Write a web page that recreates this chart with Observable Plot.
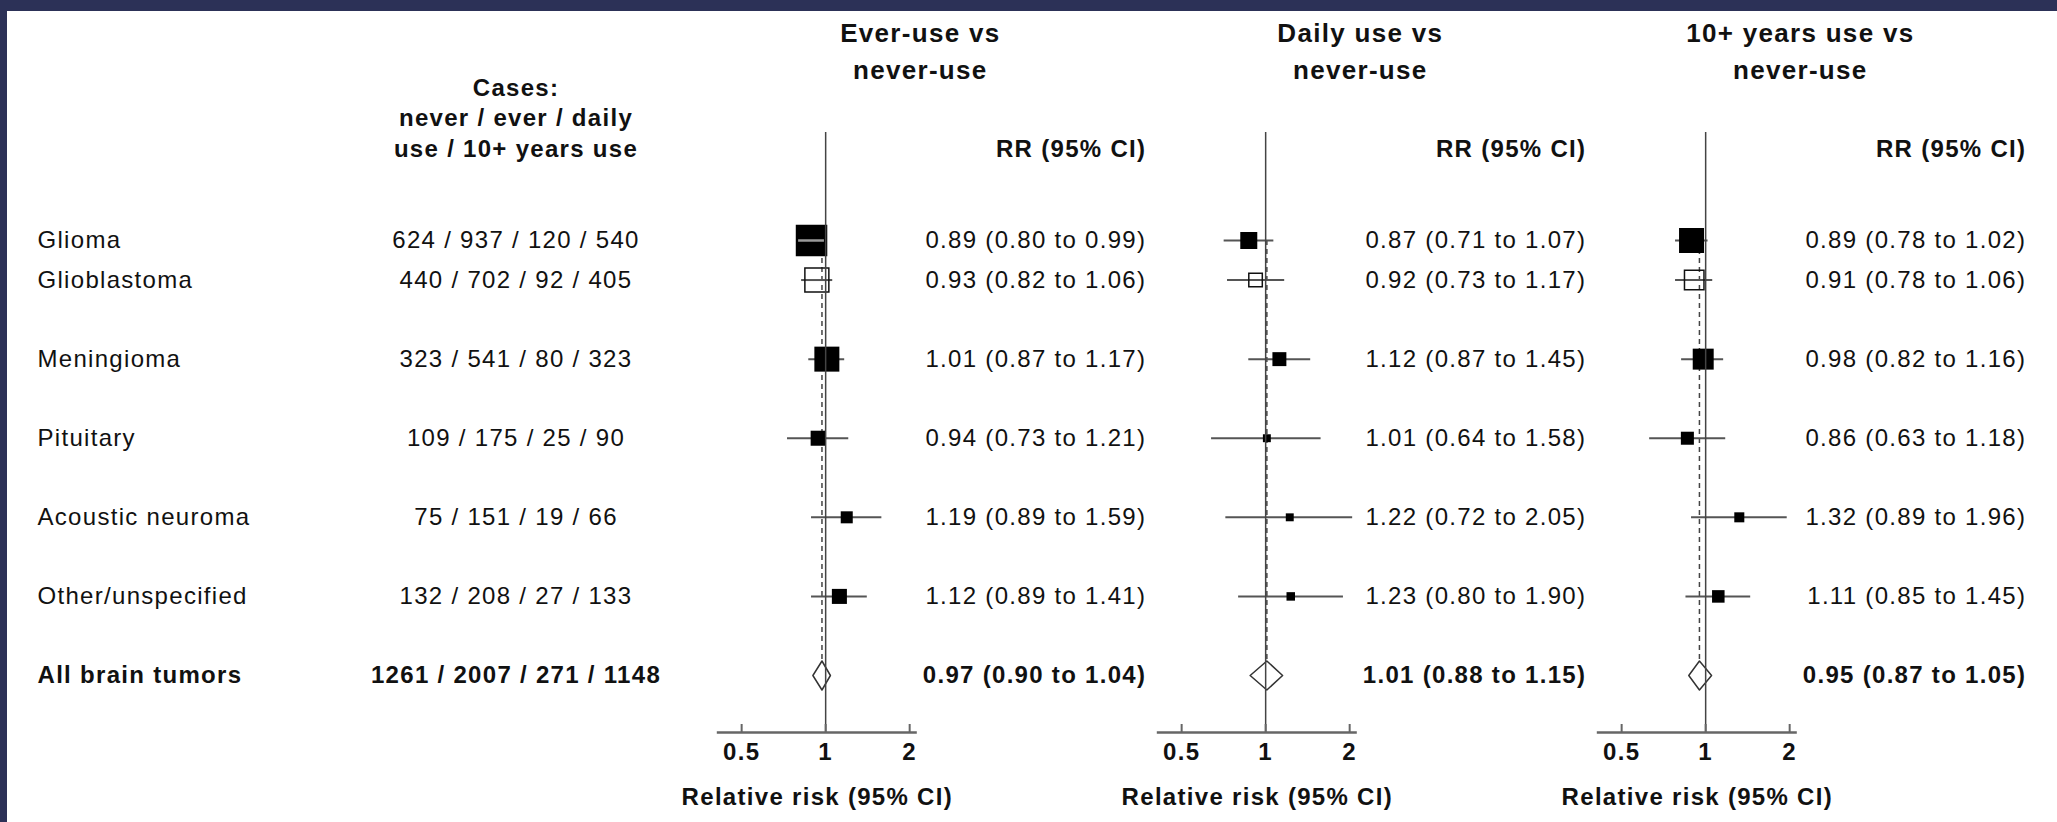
<!DOCTYPE html>
<html><head><meta charset="utf-8">
<script src="https://cdn.jsdelivr.net/npm/d3@7"></script>
<script src="https://cdn.jsdelivr.net/npm/@observablehq/plot@0.6"></script>
<style>
html,body{margin:0;padding:0;background:#2c3157;overflow:hidden;}
#wrap{position:relative;width:2057px;height:822px;background:#2c3157;}
#sheet{position:absolute;left:7px;top:11px;right:0;bottom:0;background:#fff;}
#wrap svg{position:absolute;top:0;}
</style></head><body><div id="wrap"><div id="sheet"></div></div>
<script>
// ---------- data ----------
const tumors = ["Glioma", "Glioblastoma", "Meningioma", "Pituitary", "Acoustic neuroma", "Other/unspecified", "All brain tumors"];
const subtype = [false, true, false, false, false, false, false];   // glioblastoma is a glioma subtype (open box)
const overall = [false, false, false, false, false, false, true];
const cases = ["624 / 937 / 120 / 540", "440 / 702 / 92 / 405", "323 / 541 / 80 / 323", "109 / 175 / 25 / 90", "75 / 151 / 19 / 66", "132 / 208 / 27 / 133", "1261 / 2007 / 271 / 1148"];
const comparisons = ["Ever-use vs\nnever-use", "Daily use vs\nnever-use", "10+ years use vs\nnever-use"];

const rrEver = [0.89, 0.93, 1.01, 0.94, 1.19, 1.12, 0.97];
const loEver = [0.80, 0.82, 0.87, 0.73, 0.89, 0.89, 0.90];
const hiEver = [0.99, 1.06, 1.17, 1.21, 1.59, 1.41, 1.04];
const wEver  = [316, 183, 199, 72, 46, 72, 0];

const rrDaily = [0.87, 0.92, 1.12, 1.01, 1.22, 1.23, 1.01];
const loDaily = [0.71, 0.73, 0.87, 0.64, 0.72, 0.80, 0.88];
const hiDaily = [1.07, 1.17, 1.45, 1.58, 2.05, 1.90, 1.15];
const wDaily  = [92, 58, 62, 20, 20, 23, 0];

const rr10 = [0.89, 0.91, 0.98, 0.86, 1.32, 1.11, 0.95];
const lo10 = [0.78, 0.78, 0.82, 0.63, 0.89, 0.85, 0.87];
const hi10 = [1.02, 1.06, 1.16, 1.18, 1.96, 1.45, 1.05];
const w10  = [199, 121, 140, 54, 32, 50, 0];

const xTicks = [0.5, 1, 2];
const casesHeader = "Cases:\nnever / ever / daily\nuse / 10+ years use";
const rrHeader = "RR (95% CI)";
const axisTitle = "Relative risk (95% CI)";

// ---------- layout ----------
const series = [[rrEver, loEver, hiEver, wEver], [rrDaily, loDaily, hiDaily, wDaily], [rr10, lo10, hi10, w10]];
const pos = [];
tumors.forEach((t, i) => pos.push(i === 0 ? 0 : pos[i - 1] + (subtype[i] ? 1 : 2)));
const lastRow = d3.max(pos);
const Y0 = 240, Y1 = 675, H = 822, MB = 90;
const yScale = {domain: [0, lastRow], range: [Y0, Y1], axis: null};
const yData = px => (px - Y0) / (Y1 - Y0) * lastRow;
const FONT = "'Liberation Sans', Arial, Helvetica, sans-serif";
const baseStyle = {background: "transparent", overflow: "visible", fontFamily: FONT, fontSize: "24px", letterSpacing: "1.3px", color: "#111"};
const X_DOMAIN = [0.409, 2.13];
const FRAME_W = 200, PW = 570, PML = 116.8, PMR = PW - PML - FRAME_W;
const fmt = d => `${d.rr.toFixed(2)} (${d.lo.toFixed(2)} to ${d.hi.toFixed(2)})`;

const wrap = document.getElementById("wrap");

// left table
const table = tumors.map((t, i) => ({name: t, cases: cases[i], row: pos[i], all: overall[i]}));
const left = Plot.plot({
  width: 1000, height: H, marginLeft: 37, marginRight: 6, marginTop: 0, marginBottom: MB,
  y: yScale, style: baseStyle,
  marks: [
    Plot.text(table.filter(d => !d.all), {y: "row", text: "name", frameAnchor: "left", textAnchor: "start", fontSize: 24, fill: "#111"}),
    Plot.text(table.filter(d => d.all), {y: "row", text: "name", frameAnchor: "left", textAnchor: "start", fontSize: 24, fontWeight: "bold", fill: "#111"}),
    Plot.text(table.filter(d => !d.all), {y: "row", text: "cases", frameAnchor: "middle", fontSize: 24, fill: "#111"}),
    Plot.text(table.filter(d => d.all), {y: "row", text: "cases", frameAnchor: "middle", fontSize: 24, fontWeight: "bold", fill: "#111"}),
    Plot.text([casesHeader], {frameAnchor: "top", lineAnchor: "middle", dy: 116, lineHeight: 1.27, fontSize: 24, fontWeight: "bold", fill: "#111"})
  ]
});
left.style.left = "0px";
wrap.appendChild(left);

function panel(p) {
  const [rr, lo, hi, w] = series[p];
  const rows = tumors.map((t, i) => ({name: t, row: pos[i], rr: rr[i], lo: lo[i], hi: hi[i], w: w[i], sub: subtype[i], all: overall[i]}));
  const studies = rows.filter(d => !d.all);
  const tot = rows.find(d => d.all);
  const pxPerLn = FRAME_W / Math.log(X_DOMAIN[1] / X_DOMAIN[0]);
  const inside = studies.filter(d => !d.sub && Math.log(d.hi / d.lo) * pxPerLn < 1.7725 * Math.sqrt(d.w));
  const h = 14.5 / ((Y1 - Y0) / lastRow);
  const diamond = [[tot.lo, tot.row], [tot.rr, tot.row - h], [tot.hi, tot.row], [tot.rr, tot.row + h], [tot.lo, tot.row]];
  const svg = Plot.plot({
    width: PW, height: H, marginLeft: PML, marginRight: PMR, marginTop: 0, marginBottom: MB,
    x: {type: "log", domain: X_DOMAIN},
    y: yScale,
    r: {type: "sqrt", domain: [0, 400], range: [0, 20]},
    style: baseStyle,
    marks: [
      Plot.ruleX([tot.rr], {y1: 0, y2: tot.row, stroke: "#444", strokeWidth: 1.5, strokeDasharray: "5,4"}),
      Plot.ruleY(studies, {y: "row", x1: "lo", x2: "hi", stroke: "#555", strokeWidth: 2}),
      Plot.dot(studies.filter(d => !d.sub), {x: "rr", y: "row", r: "w", symbol: "square", fill: "#000", stroke: "none"}),
      Plot.dot(studies.filter(d => d.sub), {x: "rr", y: "row", r: "w", symbol: "square", fill: "none", stroke: "#111", strokeWidth: 1.5}),
      Plot.ruleY(inside, {y: "row", x1: "lo", x2: "hi", stroke: "#9a9a9a", strokeWidth: 2.5}),
      Plot.line(diamond, {x: d => d[0], y: d => d[1], fill: "white", stroke: "#333", strokeWidth: 1.5}),
      Plot.ruleX([1], {insetTop: 132, stroke: "#444", strokeWidth: 1.5}),
      Plot.ruleY([yData(H - MB)], {x1: X_DOMAIN[0], x2: X_DOMAIN[1], stroke: "#666", strokeWidth: 2.5}),
      Plot.ruleX(xTicks, {insetTop: H - MB - 8, stroke: "#666", strokeWidth: 2}),
      Plot.axisX({ticks: xTicks, tickFormat: d => String(d), tickSize: 0, tickPadding: 10, fontSize: 24, fontWeight: "bold", label: null, fill: "#111"}),
      Plot.text([axisTitle], {frameAnchor: "bottom", lineAnchor: "middle", dy: 65, fontSize: 24, fontWeight: "bold", fill: "#111"}),
      Plot.text([comparisons[p]], {frameAnchor: "top", lineAnchor: "middle", dx: 103, dy: 48, lineHeight: 1.42, fontSize: 26, fontWeight: "bold", fill: "#111"}),
      Plot.text([rrHeader], {frameAnchor: "top-right", lineAnchor: "middle", dx: 229, dy: 149, textAnchor: "end", fontSize: 24, fontWeight: "bold", fill: "#111"}),
      Plot.text(rows.filter(d => !d.all), {y: "row", text: fmt, frameAnchor: "right", dx: 229, textAnchor: "end", fontSize: 24, fill: "#111"}),
      Plot.text(rows.filter(d => d.all), {y: "row", text: fmt, frameAnchor: "right", dx: 229, textAnchor: "end", fontSize: 24, fontWeight: "bold", fill: "#111"})
    ]
  });
  svg.style.left = (600 + 440 * p) + "px";
  wrap.appendChild(svg);
}
[0, 1, 2].forEach(panel);
</script>
</body></html>
